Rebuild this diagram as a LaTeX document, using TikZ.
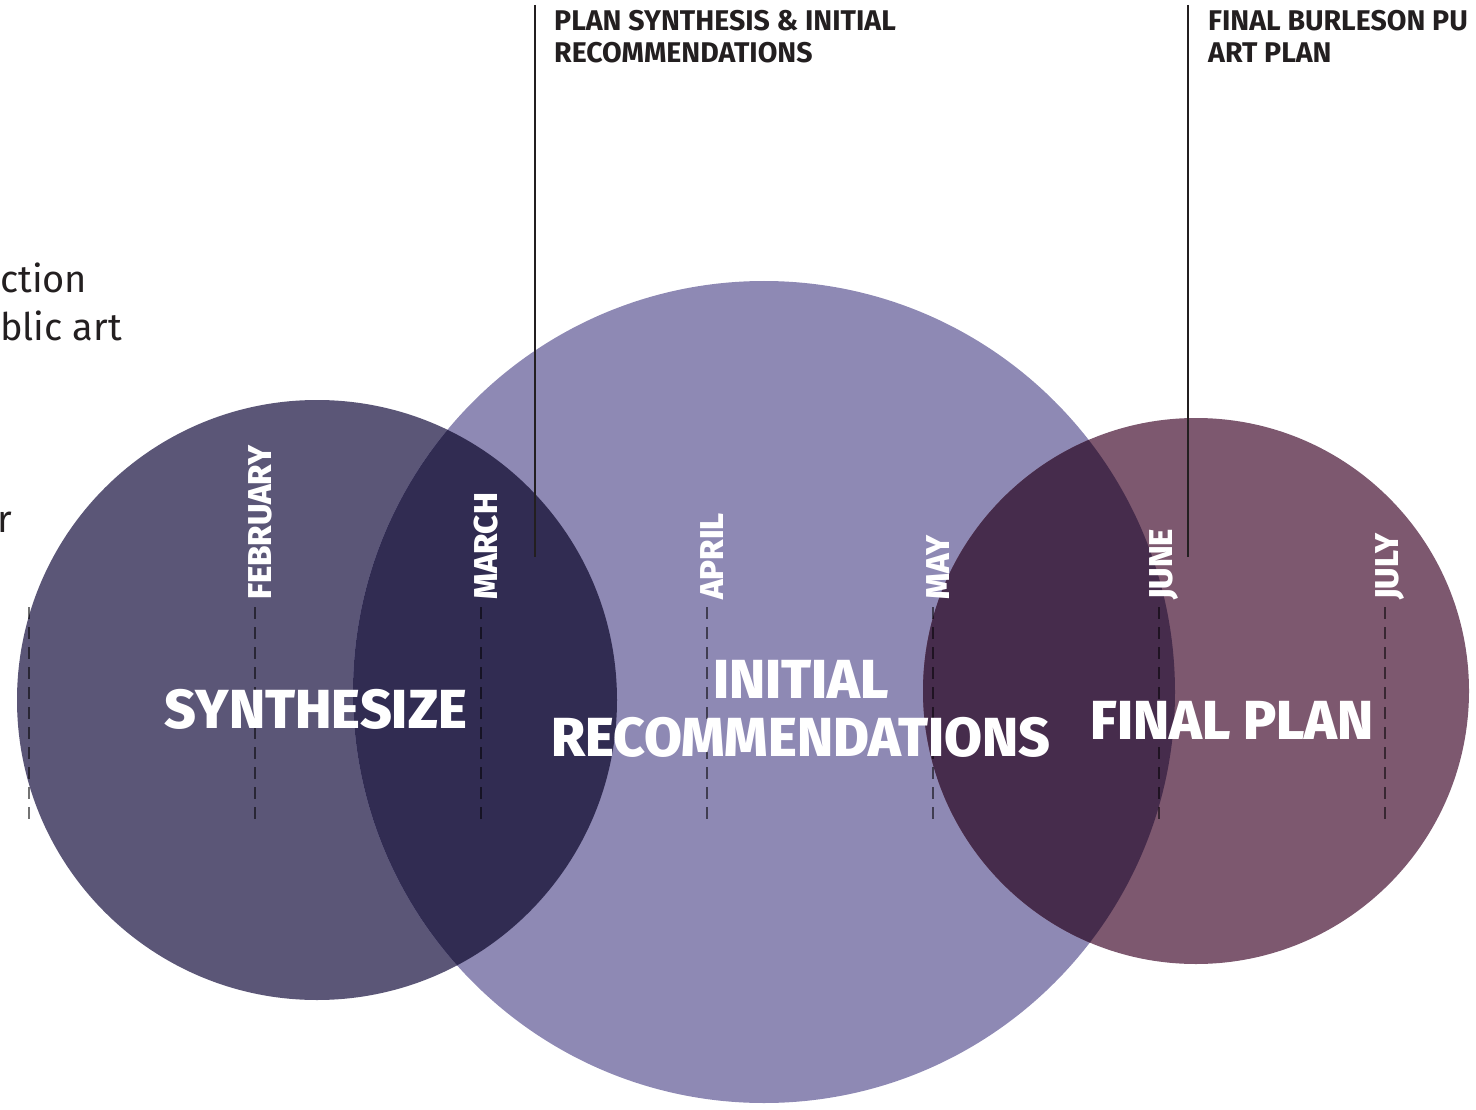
\documentclass[tikz,border=0pt]{standalone}
\usepackage{fontspec}
\setmainfont{Fira Sans}
\newfontfamily\heavyfont{Fira Sans ExtraBold}
\usepackage{xcolor}
\usetikzlibrary{positioning}

\definecolor{synth}{HTML}{5B5677}
\definecolor{recom}{HTML}{8E89B4}
\definecolor{final}{HTML}{7D586F}
\definecolor{synthrecom}{HTML}{312C52}
\definecolor{recomfinal}{HTML}{462C4C}
\definecolor{ink}{HTML}{231F20}

\begin{document}
\begin{tikzpicture}[x=1pt, y=-1pt,
    month/.style={rotate=90, anchor=west, inner sep=0pt, text=white,
        font=\heavyfont\fontsize{33}{33}\selectfont},
    phase/.style={align=center, inner sep=0pt, text=white,
        font=\heavyfont\fontsize{55}{58}\selectfont},
    callout/.style={anchor=north west, align=left, inner sep=0pt, text=ink,
        font=\bfseries\fontsize{28.5}{32}\selectfont},
    sidetext/.style={anchor=base west, inner sep=0pt, text=ink,
        font=\fontsize{38}{48}\selectfont},
    tick/.style={draw=black, draw opacity=0.55, line width=1.5pt, dash pattern=on 12pt off 8pt},
    pin/.style={draw=ink, line width=1.5pt}]

    \useasboundingbox (0,0) rectangle (1476,1110);

    % circles
    \fill[synth] (317,700) circle[radius=300pt];
    \fill[recom] (764,692) circle[radius=411pt];
    \fill[final] (1196,691) circle[radius=273pt];
    \begin{scope}
        \clip (317,700) circle[radius=300pt];
        \fill[synthrecom] (764,692) circle[radius=411pt];
    \end{scope}
    \begin{scope}
        \clip (1196,691) circle[radius=273pt];
        \fill[recomfinal] (764,692) circle[radius=411pt];
    \end{scope}

    % side text
    \node[sidetext] (side1) at (0,292) {ction};
    \node[sidetext] (side2) at (0,340) {blic art};
    \node[sidetext] (side3) at (-3,532) {r};

    % months
    \coordinate (t0) at (29,607);
    \coordinate (b0) at (29,822);
    \draw[tick] (t0) -- (b0);
    \foreach \x/\m in {255/FEBRUARY, 481/MARCH, 707/APRIL, 933/MAY, 1159/JUNE, 1385/JULY} {
        \coordinate (t\x) at (\x,607);
        \coordinate (b\x) at (\x,822);
        \draw[tick] (t\x) -- (b\x);
        \node[month] (m\x) at (\x+5,600) {\m};
    }

    % phases
    \node[phase] (synthesize) at (316,709) {SYNTHESIZE};
    \node[phase] (initial) at (801,709) {INITIAL\\RECOMMENDATIONS};
    \node[phase] (finalplan) at (1232,720) {FINAL PLAN};

    % callouts
    \node[callout] (callA) at (554,10) {PLAN SYNTHESIS \& INITIAL\\RECOMMENDATIONS};
    \node[callout] (callB) at (1208,10) {FINAL BURLESON PU\\ART PLAN};
    \coordinate (pinAtop) at (535,5);
    \coordinate (pinA) at (535,557);
    \coordinate (pinBtop) at (1188,5);
    \coordinate (pinB) at (1188,557);
    \draw[pin] (pinAtop) -- (pinA);
    \draw[pin] (pinBtop) -- (pinB);

\end{tikzpicture}
\end{document}
